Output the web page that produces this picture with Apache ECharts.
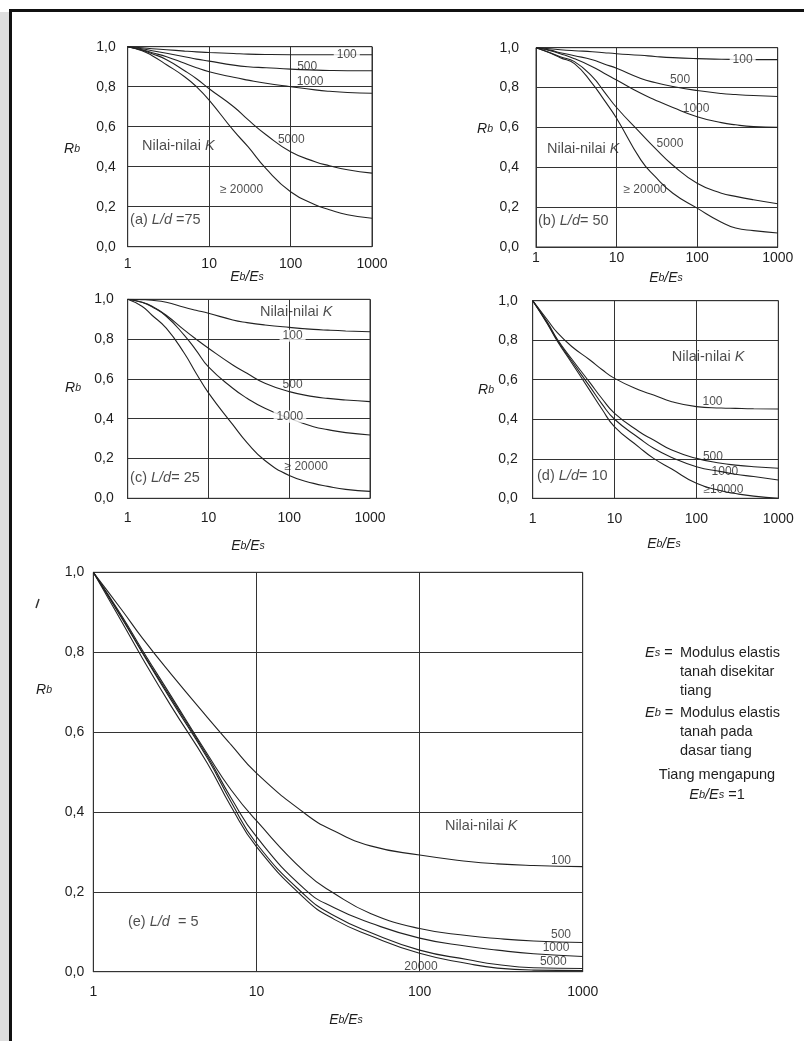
<!DOCTYPE html>
<html><head><meta charset="utf-8">
<script src="https://cdn.jsdelivr.net/npm/echarts@6/dist/echarts.min.js"></script>
<style>html,body{margin:0;padding:0;background:#fff}#c{width:804px;height:1041px}</style>
</head><body><div id="c"></div>
<script>
// ---------- DATA ----------
const xs = [1, 1.5, 2, 3, 5, 7, 10, 20, 30, 50, 100, 200, 300, 500, 1000];
const xTicks = [1, 10, 100, 1000];
const yTicks = [0, 0.2, 0.4, 0.6, 0.8, 1.0];

// (a) L/d = 75
const a100   = [1.0, 0.995, 0.99, 0.985, 0.978, 0.974, 0.971, 0.966, 0.963, 0.961, 0.96, 0.96, 0.96, 0.96, 0.96];
const a500   = [1.0, 0.99, 0.98, 0.967, 0.95, 0.938, 0.928, 0.908, 0.90, 0.895, 0.888, 0.883, 0.881, 0.88, 0.88];
const a1000  = [1.0, 0.985, 0.97, 0.95, 0.917, 0.895, 0.875, 0.847, 0.833, 0.817, 0.80, 0.784, 0.777, 0.771, 0.767];
const a5000  = [1.0, 0.983, 0.965, 0.935, 0.88, 0.84, 0.79, 0.70, 0.635, 0.56, 0.475, 0.425, 0.405, 0.385, 0.368];
const a20000 = [1.0, 0.98, 0.955, 0.91, 0.85, 0.80, 0.733, 0.58, 0.50, 0.39, 0.275, 0.21, 0.185, 0.16, 0.142];
// (b) L/d = 50
const b100   = [1.0, 0.995, 0.99, 0.985, 0.98, 0.975, 0.97, 0.962, 0.956, 0.95, 0.945, 0.942, 0.941, 0.94, 0.94];
const b500   = [1.0, 0.988, 0.975, 0.96, 0.94, 0.918, 0.897, 0.846, 0.825, 0.805, 0.785, 0.77, 0.765, 0.76, 0.755];
const b1000  = [1.0, 0.985, 0.97, 0.945, 0.905, 0.872, 0.838, 0.771, 0.738, 0.70, 0.654, 0.624, 0.613, 0.604, 0.60];
const b5000  = [1.0, 0.975, 0.955, 0.93, 0.855, 0.78, 0.70, 0.57, 0.496, 0.41, 0.32, 0.27, 0.254, 0.237, 0.217];
const b20000 = [1.0, 0.973, 0.95, 0.92, 0.82, 0.738, 0.646, 0.437, 0.354, 0.27, 0.195, 0.124, 0.095, 0.082, 0.07];
// (c) L/d = 25
const c100   = [1.0, 0.998, 0.995, 0.985, 0.96, 0.945, 0.93, 0.896, 0.883, 0.871, 0.859, 0.849, 0.845, 0.841, 0.837];
const c500   = [1.0, 0.985, 0.965, 0.92, 0.846, 0.80, 0.754, 0.67, 0.628, 0.578, 0.536, 0.511, 0.502, 0.494, 0.486];
const c1000  = [1.0, 0.985, 0.962, 0.915, 0.82, 0.745, 0.66, 0.553, 0.503, 0.452, 0.402, 0.36, 0.345, 0.33, 0.318];
const c20000 = [1.0, 0.965, 0.92, 0.855, 0.73, 0.63, 0.53, 0.37, 0.28, 0.19, 0.115, 0.075, 0.06, 0.045, 0.035];
// (d) L/d = 10
const d100   = [1.0, 0.905, 0.838, 0.768, 0.70, 0.652, 0.607, 0.548, 0.523, 0.489, 0.464, 0.457, 0.455, 0.453, 0.452];
const d500   = [1.0, 0.893, 0.805, 0.705, 0.585, 0.505, 0.43, 0.337, 0.295, 0.244, 0.202, 0.177, 0.168, 0.16, 0.152];
const d1000  = [1.0, 0.888, 0.80, 0.695, 0.565, 0.478, 0.40, 0.304, 0.253, 0.207, 0.16, 0.135, 0.122, 0.11, 0.093];
const d10000 = [1.0, 0.885, 0.795, 0.685, 0.545, 0.452, 0.362, 0.258, 0.202, 0.148, 0.076, 0.038, 0.024, 0.011, 0.0];
// (e) L/d = 5
const e100   = [1.0, 0.905, 0.835, 0.745, 0.637, 0.568, 0.497, 0.395, 0.352, 0.315, 0.292, 0.276, 0.27, 0.266, 0.263];
const e500   = [1.0, 0.89, 0.805, 0.69, 0.545, 0.455, 0.378, 0.248, 0.196, 0.146, 0.108, 0.09, 0.083, 0.077, 0.073];
const e1000  = [1.0, 0.886, 0.80, 0.685, 0.54, 0.435, 0.338, 0.205, 0.16, 0.122, 0.084, 0.063, 0.054, 0.045, 0.038];
const e5000  = [1.0, 0.884, 0.798, 0.68, 0.535, 0.425, 0.321, 0.19, 0.14, 0.098, 0.054, 0.03, 0.018, 0.01, 0.008];
const e20000 = [1.0, 0.875, 0.785, 0.665, 0.522, 0.413, 0.313, 0.181, 0.131, 0.09, 0.046, 0.02, 0.009, 0.004, 0.003];

// ---------- LAYOUT / STYLE ----------
const FONT = '"Liberation Sans", Arial, Helvetica, sans-serif';
const INK = '#1e1e1e';
const rich = {
  n: {fontFamily: FONT, fontSize: 14.5, color: INK},
  i: {fontFamily: FONT, fontSize: 14.5, fontStyle: 'italic', color: INK},
  k: {fontFamily: FONT, fontSize: 12, color: INK}
};

const panels = [
  {grid: {left: 127.7, top: 46.7, width: 244.3, height: 200}, ym: 12, xm: 10,
   curves: [a100, a500, a1000, a5000, a20000],
   notes: [
     {x: 490, y: 0.962, t: '{k|100}', bg: true},
     {x: 160, y: 0.90, t: '{k|500}'},
     {x: 174, y: 0.825, t: '{k|1000}'},
     {x: 102, y: 0.533, t: '{k|5000}'},
     {x: 25, y: 0.283, t: '{k|≥ 20000}'},
     {x: 1.5, y: 0.505, t: '{n|Nilai-nilai }{i|K}', al: 'left'},
     {x: 1.07, y: 0.133, t: '{n|(a) }{i|L/d}{n| =75}', al: 'left'}
   ]},
  {grid: {left: 536, top: 47.7, width: 241.7, height: 199.3}, ym: 17, xm: 4,
   curves: [b100, b500, b1000, b5000, b20000],
   notes: [
     {x: 367, y: 0.942, t: '{k|100}', bg: true},
     {x: 61.5, y: 0.838, t: '{k|500}'},
     {x: 97, y: 0.696, t: '{k|1000}'},
     {x: 46, y: 0.52, t: '{k|5000}'},
     {x: 22.6, y: 0.286, t: '{k|≥ 20000}'},
     {x: 1.37, y: 0.49, t: '{n|Nilai-nilai }{i|K}', al: 'left'},
     {x: 1.06, y: 0.13, t: '{n|(b) }{i|L/d}{n|= 50}', al: 'left'}
   ]},
  {grid: {left: 127.7, top: 299.3, width: 242.3, height: 199}, ym: 14, xm: 13,
   curves: [c100, c500, c1000, c20000],
   notes: [
     {x: 43.4, y: 0.938, t: '{n|Nilai-nilai }{i|K}', al: 'left'},
     {x: 110, y: 0.817, t: '{k|100}', bg: true},
     {x: 110, y: 0.569, t: '{k|500}'},
     {x: 102, y: 0.41, t: '{k|1000}', bg: true},
     {x: 162, y: 0.159, t: '{k|≥ 20000}'},
     {x: 1.07, y: 0.10, t: '{n|(c) }{i|L/d}{n|= 25}', al: 'left'}
   ]},
  {grid: {left: 532.7, top: 300.7, width: 245.6, height: 197.6}, ym: 15, xm: 14,
   curves: [d100, d500, d1000, d10000],
   notes: [
     {x: 50, y: 0.714, t: '{n|Nilai-nilai }{i|K}', al: 'left'},
     {x: 157, y: 0.49, t: '{k|100}'},
     {x: 159, y: 0.21, t: '{k|500}'},
     {x: 223, y: 0.135, t: '{k|1000}'},
     {x: 214, y: 0.042, t: '{k|≥10000}'},
     {x: 1.13, y: 0.114, t: '{n|(d) }{i|L/d}{n|= 10}', al: 'left'}
   ]},
  {grid: {left: 93.3, top: 572.3, width: 489.4, height: 399.4}, ym: 9, xm: 13,
   curves: [e100, e500, e1000, e5000, e20000],
   notes: [
     {x: 143, y: 0.365, t: '{n|Nilai-nilai }{i|K}', al: 'left'},
     {x: 736, y: 0.278, t: '{k|100}'},
     {x: 736, y: 0.092, t: '{k|500}'},
     {x: 686, y: 0.06, t: '{k|1000}'},
     {x: 660, y: 0.025, t: '{k|5000}'},
     {x: 102, y: 0.0125, t: '{k|20000}'},
     {x: 1.63, y: 0.125, t: '{n|(e) }{i|L/d}{n|  = 5}', al: 'left'}
   ]}
];

const rbPos = [[72, 149], [485, 129], [73, 388], [486, 390], [44, 690]];
const ebPos = [[247, 277], [666, 278], [248, 546], [664, 544], [346, 1020]];

const grids = [], xAxes = [], yAxes = [], series = [];
panels.forEach((p, i) => {
  grids.push(Object.assign({show: true, borderColor: '#333', borderWidth: 1, backgroundColor: '#fff', containLabel: false}, p.grid));
  xAxes.push({
    type: 'log', logBase: 10, min: xTicks[0], max: xTicks[xTicks.length - 1], gridIndex: i,
    axisLine: {show: true, lineStyle: {color: '#333', width: 1}},
    axisTick: {show: false}, minorTick: {show: false},
    splitLine: {show: true, lineStyle: {color: '#333', width: 1}},
    axisLabel: {margin: p.xm, fontFamily: FONT, fontSize: 14, color: INK,
      formatter: v => String(Math.round(v))}
  });
  yAxes.push({
    type: 'value', min: yTicks[0], max: yTicks[yTicks.length - 1], interval: 0.2, gridIndex: i,
    axisLine: {show: true, lineStyle: {color: '#333', width: 1}},
    axisTick: {show: false},
    splitLine: {show: true, lineStyle: {color: '#333', width: 1}},
    axisLabel: {margin: p.ym, fontFamily: FONT, fontSize: 14, color: INK,
      formatter: v => v.toFixed(1).replace('.', ',')}
  });
  p.curves.forEach(arr => {
    series.push({
      type: 'line', xAxisIndex: i, yAxisIndex: i, silent: true,
      data: xs.map((x, j) => [x, arr[j]]),
      smooth: 0.5, showSymbol: false, symbol: 'none',
      lineStyle: {color: '#222', width: 1.1}, z: 3
    });
  });
  series.push({
    type: 'scatter', xAxisIndex: i, yAxisIndex: i, silent: true, z: 10,
    symbolSize: 1, itemStyle: {color: 'rgba(0,0,0,0)'},
    data: p.notes.map(n => ({
      value: [n.x, n.y],
      label: {show: true, position: 'inside', align: n.al || 'center', verticalAlign: 'middle',
        formatter: n.t, rich: rich,
        backgroundColor: n.bg ? '#fff' : 'transparent', padding: n.bg ? [0, 3] : 0}
    }))
  });
});

const g = (name, sz, italic) => ({fill: INK, fontFamily: FONT, fontSize: sz, fontStyle: italic ? 'italic' : 'normal'});
const grich = {
  n: g('n', 14.5, false), i: g('i', 14.5, true), s: g('s', 11, true),
  I: g('I', 14, true), S: g('S', 10.5, true)
};
const graphic = [
  {type: 'rect', shape: {x: 0, y: 12, width: 9, height: 1029}, style: {fill: '#dedede'}, silent: true},
  {type: 'rect', shape: {x: 9, y: 9, width: 795, height: 3}, style: {fill: '#111'}, silent: true},
  {type: 'rect', shape: {x: 9, y: 9, width: 3, height: 1032}, style: {fill: '#111'}, silent: true},
  {type: 'line', shape: {x1: 36, y1: 608, x2: 39, y2: 599}, style: {stroke: '#333', lineWidth: 1.5}, silent: true}
];
rbPos.forEach(([x, y]) => graphic.push({type: 'text', x: x, y: y, silent: true,
  style: {text: '{I|R}{S|b}', rich: grich, align: 'center', verticalAlign: 'middle'}}));
ebPos.forEach(([x, y]) => graphic.push({type: 'text', x: x, y: y, silent: true,
  style: {text: '{I|E}{S|b}{I|/E}{S|s}', rich: grich, align: 'center', verticalAlign: 'middle'}}));

const block = [
  [645, 653, '{i|E}{s|s}{n| =}', 'left'], [680, 653, '{n|Modulus elastis}', 'left'],
  [680, 672, '{n|tanah disekitar}', 'left'], [680, 691, '{n|tiang}', 'left'],
  [645, 713, '{i|E}{s|b}{n| =}', 'left'], [680, 713, '{n|Modulus elastis}', 'left'],
  [680, 732, '{n|tanah pada}', 'left'], [680, 751, '{n|dasar tiang}', 'left'],
  [717, 775, '{n|Tiang mengapung}', 'center'], [717, 795, '{i|E}{s|b}{i|/E}{s|s}{n| =1}', 'center']
];
block.forEach(([x, y, t, al]) => graphic.push({type: 'text', x: x, y: y, silent: true,
  style: {text: t, rich: grich, align: al, verticalAlign: 'middle'}}));

const chart = echarts.init(document.getElementById('c'), null, {renderer: 'canvas'});
chart.setOption({
  animation: false, backgroundColor: '#fff',
  grid: grids, xAxis: xAxes, yAxis: yAxes, series: series, graphic: graphic
});
</script></body></html>
